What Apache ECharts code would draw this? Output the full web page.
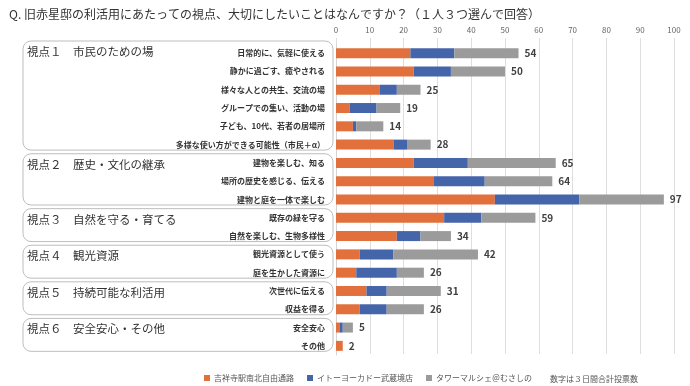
<!DOCTYPE html>
<html><head><meta charset="utf-8">
<script src="https://cdn.jsdelivr.net/npm/echarts@6/dist/echarts.min.js"></script>
<style>html,body{margin:0;padding:0;background:#fff}#c{width:690px;height:386px}</style>
</head><body><div id="c"></div>
<script>
const categories = [
  '日常的に、気軽に使える','静かに過ごす、癒やされる','様々な人との共生、交流の場','グループでの集い、活動の場',
  '子ども、10代、若者の居場所','多様な使い方ができる可能性（市民＋α）',
  '建物を楽しむ、知る','場所の歴史を感じる、伝える','建物と庭を一体で楽しむ',
  '既存の緑を守る','自然を楽しむ、生物多様性',
  '観光資源として使う','庭を生かした資源に',
  '次世代に伝える','収益を得る',
  '安全安心','その他'
];
const groupTitles = ['視点１　市民のための場','視点２　歴史・文化の継承','視点３　自然を守る・育てる','視点４　観光資源','視点５　持続可能な利活用','視点６　安全安心・その他'];
const groupSizes = [6,3,2,2,2,2];
const seriesNames = ['吉祥寺駅南北自由通路','イトーヨーカドー武蔵境店','タワーマルシェ＠むさしの'];
const kichijoji = [22,23,13,4,5,17,23,29,47,32,18,7,6,9,7,1,2];
const itoyokado = [13,11,5,8,1,4,16,15,25,11,7,10,12,6,8,1,0];
const tower     = [19,16,7,7,8,7,26,20,25,16,9,25,8,16,11,3,0];
const totals    = [54,50,25,19,14,28,65,64,97,59,34,42,26,31,26,5,2];
const axisMin = 0, axisMax = 100, axisInterval = 10;
const titleText = 'Q. 旧赤星邸の利活用にあたっての視点、大切にしたいことはなんですか？（１人３つ選んで回答）';
const noteText = '数字は３日間合計投票数';

const FONT = '"Noto Sans CJK JP", "Noto Sans", sans-serif';
const colors = ['#E2703D','#4565AA','#9B9B9B'];
const chart = echarts.init(document.getElementById('c'), null, {renderer:'canvas'});
const vals = [kichijoji, itoyokado, tower];

const series = vals.map((d, i) => ({
  name: seriesNames[i], type: 'bar', stack: 'all', xAxisIndex: 0, yAxisIndex: 0,
  data: d, barWidth: 10, itemStyle: {color: colors[i]},
  label: i === 2 ? {show: true, position: 'right', distance: 6, formatter: p => totals[p.dataIndex],
    fontFamily: FONT, fontSize: 10, fontWeight: 'bold', color: '#404040'} : {show: false}
}));

const legendLefts = [204, 307, 426];
chart.setOption({
  animation: false,
  textStyle: {fontFamily: FONT},
  title: {text: titleText, left: 4, top: 3, textStyle: {fontFamily: FONT, fontSize: 12, fontWeight: 'normal', color: '#333'}},
  legend: seriesNames.map((n, i) => ({
    data: [n], left: legendLefts[i], top: 374, padding: 0, itemWidth: 6, itemHeight: 6, itemGap: 4,
    icon: 'rect', textStyle: {fontFamily: FONT, fontSize: 8, color: '#555', padding: [0,0,0,-1]}
  })),
  grid: [
    {left: 336, right: 16, top: 44, bottom: 31},
    {left: 336, right: 16, top: 38, bottom: 32}
  ],
  xAxis: [
    {type: 'value', gridIndex: 0, min: axisMin, max: axisMax, interval: axisInterval, show: false},
    {type: 'value', gridIndex: 1, position: 'top', min: axisMin, max: axisMax, interval: axisInterval,
      axisLine: {show: false}, axisTick: {show: false},
      axisLabel: {fontFamily: FONT, fontSize: 8, color: '#666', margin: 4},
      splitLine: {lineStyle: {color: '#dedede'}}}
  ],
  yAxis: [
    {type: 'category', gridIndex: 0, data: categories, inverse: true,
      axisLine: {show: true, lineStyle: {color: '#d4d4d4'}}, axisTick: {show: false},
      axisLabel: {fontFamily: FONT, fontSize: 8, fontWeight: 'bold', color: '#333', margin: 11}},
    {type: 'value', gridIndex: 1, show: false}
  ],
  series: series
});

// group boxes
const graphics = [];
let idx = 0;
const band = (386 - 31 - 44) / categories.length;
groupSizes.forEach((n, g) => {
  const first = chart.convertToPixel({yAxisIndex: 0}, idx);
  const last = chart.convertToPixel({yAxisIndex: 0}, idx + n - 1);
  const top = first - band * 0.5 - (g === 0 ? 3 : 0);
  const bottom = last + band * 0.3;
  graphics.push({type: 'rect', shape: {x: 23, y: top, width: 310, height: bottom - top, r: 8},
    style: {fill: 'none', stroke: '#bdbdbd', lineWidth: 1}, z: 0});
  graphics.push({type: 'text', x: 27, y: top + 10.5,
    style: {text: groupTitles[g], font: '11.5px ' + FONT, fill: '#333', textVerticalAlign: 'middle', verticalAlign: 'middle'}});
  idx += n;
});
graphics.push({type: 'text', x: 550, y: 379,
  style: {text: noteText, font: '8px ' + FONT, fill: '#555', verticalAlign: 'middle', textVerticalAlign: 'middle'}});
chart.setOption({graphic: graphics});
</script></body></html>
